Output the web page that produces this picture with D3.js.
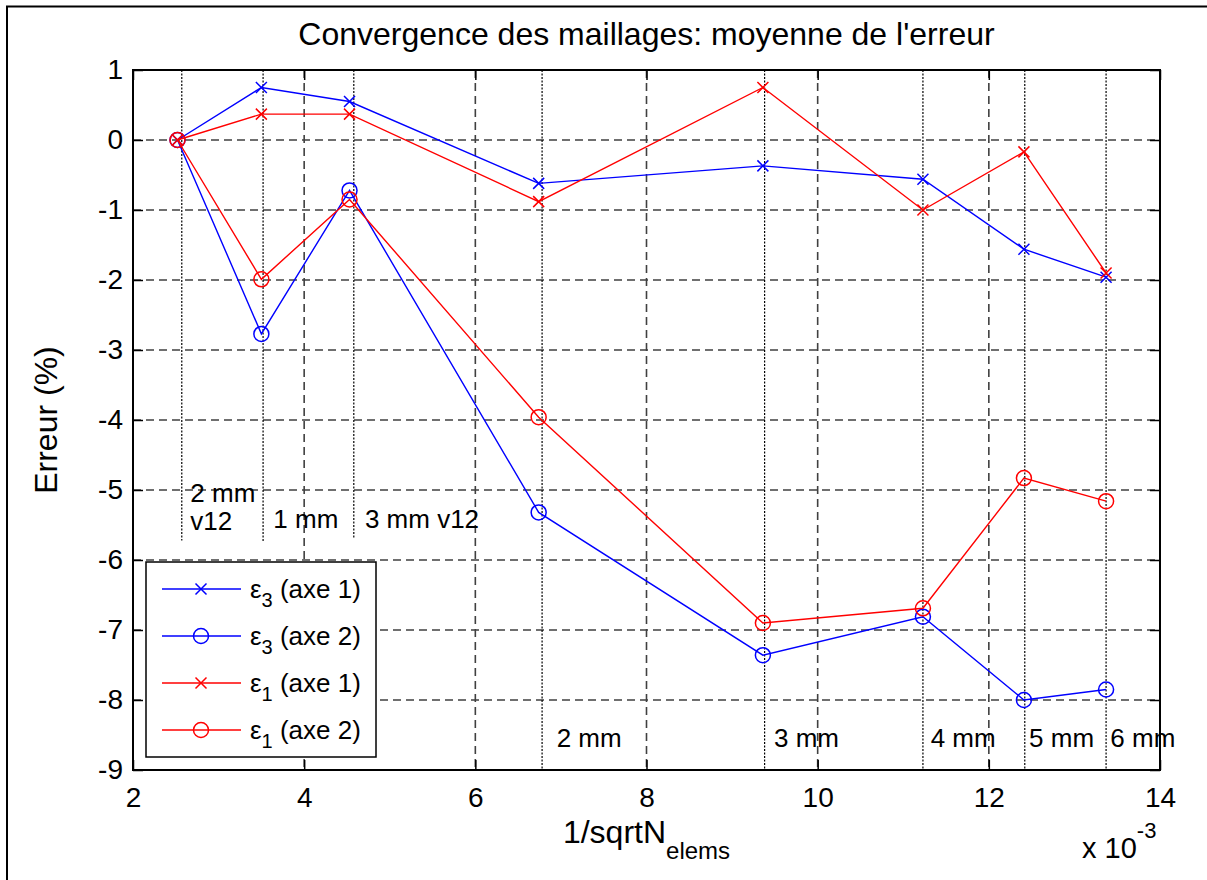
<!DOCTYPE html>
<html>
<head>
<meta charset="utf-8">
<script src="https://cdn.jsdelivr.net/npm/d3@7"></script>
<style>
  html, body { margin: 0; background: #fff; overflow: hidden; }
  svg { display: block; font-family: "Liberation Sans", Arial, Helvetica, sans-serif; }
</style>
</head>
<body>
<script>
// --- données (abscisses en 1e-3) ---
const xVals    = [2.52, 3.50, 4.53, 6.74, 9.36, 11.23, 12.41, 13.37];
const eps3Axe1 = [0, 0.75, 0.55, -0.62, -0.37, -0.56, -1.56, -1.96];
const eps3Axe2 = [0, -2.77, -0.72, -5.32, -7.36, -6.81, -8.00, -7.85];
const eps1Axe1 = [0, 0.37, 0.37, -0.88, 0.75, -1.00, -0.17, -1.90];
const eps1Axe2 = [0, -1.99, -0.85, -3.96, -6.90, -6.69, -4.83, -5.16];

// maillages (lignes pointillées + étiquettes)
const meshX      = [2.57, 3.52, 4.58, 6.78, 9.38, 11.23, 12.42, 13.37];
const meshBottom = [-5.72, -5.75, -5.68, -9, -9, -9, -9, -9];
const meshLabels = [["2 mm", "v12"], ["1 mm"], ["3 mm v12"], ["2 mm"], ["3 mm"], ["4 mm"], ["5 mm"], ["6 mm"]];
const labelX     = [2.67, 3.64, 4.71, 6.95, 9.49, 11.32, 12.47, 13.42];
const labelY     = [-5.17, -5.54, -5.54, -8.67, -8.67, -8.67, -8.67, -8.67];

const xTicks = [2, 4, 6, 8, 10, 12, 14];
const yTicks = [-9, -8, -7, -6, -5, -4, -3, -2, -1, 0, 1];

const series = [
  { sub: "3", axe: "1", values: eps3Axe1, color: "#0000ff", marker: "x" },
  { sub: "3", axe: "2", values: eps3Axe2, color: "#0000ff", marker: "o" },
  { sub: "1", axe: "1", values: eps1Axe1, color: "#ff0000", marker: "x" },
  { sub: "1", axe: "2", values: eps1Axe2, color: "#ff0000", marker: "o" }
];

const W = 1207, H = 880;
const margins = { left: 133, top: 70, right: 47, bottom: 110 };
const ancho = W - margins.left - margins.right;
const alto = H - margins.top - margins.bottom;

const svg = d3.select("body").append("svg")
  .attr("width", W).attr("height", H);

svg.append("rect").attr("width", W).attr("height", H).attr("fill", "#fff");
// cadre de la figure (seuls les bords gauche et haut sont visibles)
svg.append("path")
  .attr("d", `M7,${H}V6.5H${W}`)
  .attr("fill", "none").attr("stroke", "#000").attr("stroke-width", 2);

const x = d3.scaleLinear().domain([2, 14]).range([0, ancho]);
const y = d3.scaleLinear().domain([-9, 1]).range([alto, 0]);

const g = svg.append("g").attr("transform", `translate(${margins.left}, ${margins.top})`);

// grille
const grid = g.append("g").attr("stroke", "#404040").attr("stroke-width", 1.6)
  .attr("stroke-dasharray", "8,5").attr("fill", "none");
grid.selectAll(".gx").data(xTicks.slice(1, -1)).join("line")
  .attr("class", "gx")
  .attr("x1", d => x(d)).attr("x2", d => x(d)).attr("y1", 0).attr("y2", alto);
grid.selectAll(".gy").data(yTicks.slice(1, -1)).join("line")
  .attr("class", "gy")
  .attr("x1", 0).attr("x2", ancho).attr("y1", d => y(d)).attr("y2", d => y(d));

// lignes des maillages
g.append("g").selectAll("line").data(meshX).join("line")
  .attr("x1", d => x(d)).attr("x2", d => x(d))
  .attr("y1", y(1)).attr("y2", (d, i) => y(meshBottom[i]))
  .attr("stroke", "#000").attr("stroke-width", 1.2).attr("stroke-dasharray", "2,1.5");

// axes (ticks vers l'intérieur)
const tick = 10;
const axStyle = sel => {
  sel.select(".domain").remove();
  sel.selectAll("line").attr("stroke", "#000").attr("stroke-width", 1.5);
  sel.selectAll("text").attr("font-size", 28).attr("fill", "#000").attr("font-family", null);
};
g.append("g").attr("transform", `translate(0, ${alto})`)
  .call(d3.axisBottom(x).tickValues(xTicks).tickFormat(d3.format("d")).tickSize(-tick).tickPadding(17))
  .call(axStyle);
g.append("g")
  .call(d3.axisTop(x).tickValues(xTicks).tickFormat("").tickSize(-tick))
  .call(axStyle);
g.append("g")
  .call(d3.axisLeft(y).tickValues(yTicks).tickFormat(d => d < 0 ? "-" + Math.abs(d) : d).tickSize(-tick).tickPadding(10))
  .call(axStyle);
g.append("g").attr("transform", `translate(${ancho}, 0)`)
  .call(d3.axisRight(y).tickValues(yTicks).tickFormat("").tickSize(-tick))
  .call(axStyle);

g.append("rect").attr("width", ancho).attr("height", alto)
  .attr("fill", "none").attr("stroke", "#000").attr("stroke-width", 2);

// courbes
const line = d3.line().x((d, i) => x(xVals[i])).y(d => y(d));
const drawMarker = (sel, type, color, r) => {
  if (type === "o") {
    sel.append("circle").attr("r", r).attr("fill", "none")
      .attr("stroke", color).attr("stroke-width", 1.5);
  } else {
    sel.append("path").attr("d", `M${-r},${-r}L${r},${r}M${-r},${r}L${r},${-r}`)
      .attr("stroke", color).attr("stroke-width", 1.5).attr("fill", "none");
  }
};
series.forEach(s => {
  g.append("path").datum(s.values).attr("d", line)
    .attr("fill", "none").attr("stroke", s.color).attr("stroke-width", 1.4);
  g.append("g").selectAll("g").data(s.values).join("g")
    .attr("transform", (d, i) => `translate(${x(xVals[i])}, ${y(d)})`)
    .each(function () { drawMarker(d3.select(this), s.marker, s.color, s.marker === "o" ? 7.5 : 5.5); });
});

// étiquettes des maillages
const lab = g.append("g").attr("font-size", 26).attr("fill", "#000");
meshLabels.forEach((lines, i) => {
  const t = lab.append("text").attr("x", x(labelX[i])).attr("y", y(labelY[i]));
  lines.forEach((l, k) => t.append("tspan").attr("x", x(labelX[i])).attr("dy", k ? 28 : 0).text(l));
});

// légende
const leg = g.append("g").attr("transform", `translate(${146 - margins.left}, ${562 - margins.top})`);
leg.append("rect").attr("width", 230).attr("height", 195)
  .attr("fill", "#fff").attr("stroke", "#000").attr("stroke-width", 1.5);
series.forEach((s, i) => {
  const row = leg.append("g").attr("transform", `translate(0, ${27 + i * 47})`);
  row.append("line").attr("x1", 16).attr("x2", 95).attr("stroke", s.color).attr("stroke-width", 1.4);
  drawMarker(row.append("g").attr("transform", "translate(55,0)"), s.marker, s.color, s.marker === "o" ? 7.5 : 5.5);
  const t = row.append("text").attr("x", 104).attr("y", 9).attr("font-size", 26).attr("fill", "#000");
  t.append("tspan").text("ε");
  t.append("tspan").attr("font-size", 20).attr("dy", 9).text(s.sub);
  t.append("tspan").attr("dy", -9).text(` (axe ${s.axe})`);
});

// titre et libellés
svg.append("text").attr("x", margins.left + ancho / 2).attr("y", 45)
  .attr("text-anchor", "middle").attr("font-size", 32).attr("fill", "#000")
  .text("Convergence des maillages: moyenne de l'erreur");

svg.append("text").attr("transform", `translate(57, ${margins.top + alto / 2}) rotate(-90)`)
  .attr("text-anchor", "middle").attr("font-size", 32).attr("fill", "#000")
  .text("Erreur (%)");

const xl = svg.append("text").attr("x", margins.left + ancho / 2).attr("y", 843)
  .attr("text-anchor", "middle").attr("font-size", 32).attr("fill", "#000");
xl.append("tspan").text("1/sqrtN");
xl.append("tspan").attr("font-size", 24).attr("dy", 16).text("elems");

const ex = svg.append("text").attr("x", 1082).attr("y", 858).attr("font-size", 29).attr("fill", "#000");
ex.append("tspan").text("x 10");
ex.append("tspan").attr("font-size", 22).attr("dy", -20).text("-3");
</script>
</body>
</html>
